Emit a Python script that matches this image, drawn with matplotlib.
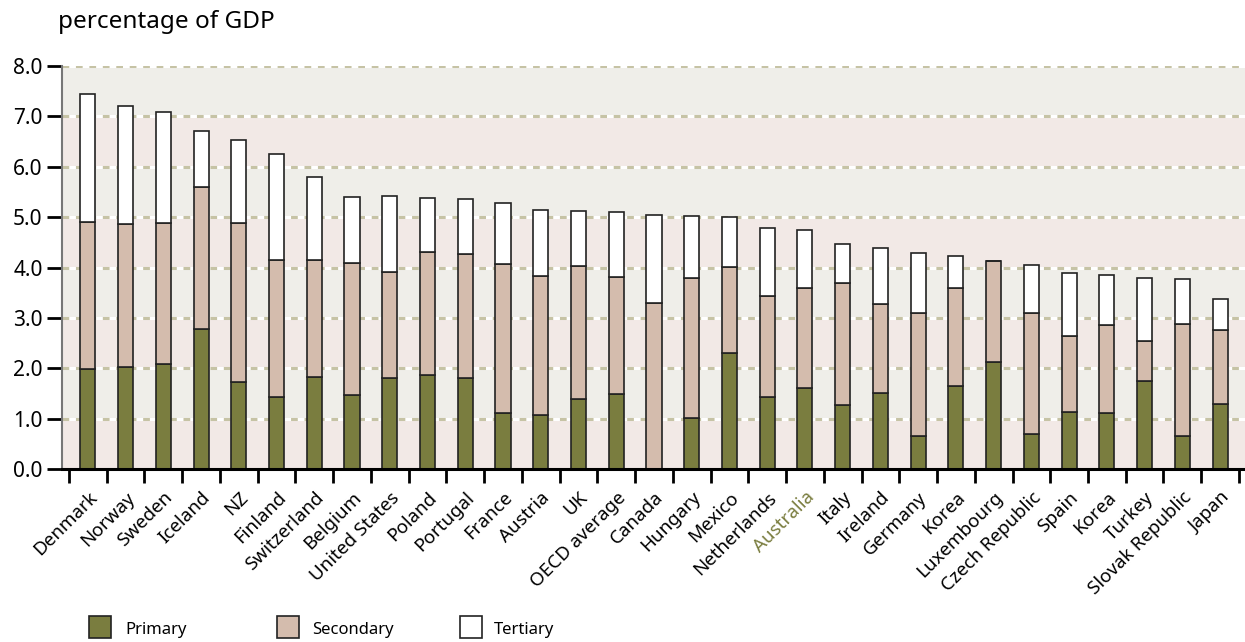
import matplotlib.pyplot as plt
from matplotlib.patches import Rectangle
import numpy as np

plt.rcParams['font.family'] = ['Noto Sans', 'DejaVu Sans']

countries = ['Denmark', 'Norway', 'Sweden', 'Iceland', 'NZ', 'Finland', 'Switzerland',
             'Belgium', 'United States', 'Poland', 'Portugal', 'France', 'Austria', 'UK',
             'OECD average', 'Canada', 'Hungary', 'Mexico', 'Netherlands', 'Australia',
             'Italy', 'Ireland', 'Germany', 'Korea', 'Luxembourg', 'Czech Republic',
             'Spain', 'Korea', 'Turkey', 'Slovak Republic', 'Japan']
# cumulative tops
primary = [1.98, 2.03, 2.08, 2.78, 1.73, 1.43, 1.83, 1.46, 1.81, 1.86, 1.81, 1.11, 1.08, 1.39,
           1.48, 0.0, 1.01, 2.30, 1.43, 1.61, 1.27, 1.51, 0.65, 1.64, 2.12, 0.69,
           1.14, 1.12, 1.75, 0.66, 1.30]
prim_sec = [4.91, 4.86, 4.88, 5.60, 4.88, 4.15, 4.15, 4.08, 3.91, 4.30, 4.27, 4.06, 3.84, 4.02,
            3.82, 3.30, 3.79, 4.01, 3.43, 3.60, 3.69, 3.28, 3.09, 3.59, 4.13, 3.10,
            2.65, 2.86, 2.55, 2.88, 2.75]
total = [7.44, 7.20, 7.08, 6.71, 6.54, 6.25, 5.80, 5.40, 5.42, 5.37, 5.36, 5.28, 5.14, 5.13,
         5.11, 5.04, 5.02, 5.01, 4.79, 4.75, 4.46, 4.39, 4.29, 4.23, 4.13, 4.05,
         3.90, 3.86, 3.79, 3.77, 3.38]
yticks = [0, 1, 2, 3, 4, 5, 6, 7, 8]

primary = np.array(primary)
secondary = np.array(prim_sec) - primary
tertiary = np.array(total) - np.array(prim_sec)

c_prim = '#7a7d3f'
c_sec = '#d4bcad'
c_ter = '#ffffff'
edge = '#222222'

fig = plt.figure(figsize=(12.45, 6.42), dpi=100)
ax = fig.add_axes([62 / 1245, 1 - 469 / 642, 1 - 62 / 1245, 403 / 642])

x = np.arange(len(countries))
ax.set_xlim(-0.685, 30.66)
ax.set_ylim(0, 8)

# background bands
for i in range(8):
    ax.axhspan(i, i + 1, color='#f2e9e6' if i % 2 == 0 else '#efeee9', lw=0, zorder=0)
for v in yticks[1:]:
    ax.axhline(v, color='white', lw=2.2, zorder=0.5)
    ax.axhline(v, color='#c6c3a5', lw=2.2, ls=(0, (2.2, 2.2)), zorder=0.6)

w = 0.4
kw = dict(width=w, edgecolor=edge, linewidth=1.2, zorder=2)
ax.bar(x, primary, color=c_prim, **kw)
ax.bar(x, secondary, bottom=primary, color=c_sec, **kw)
ax.bar(x, tertiary, bottom=prim_sec, color=c_ter, **kw)

ax.set_yticks(yticks)
ax.set_yticklabels([f'{v:.1f}' for v in yticks], fontsize=15)
ax.tick_params(axis='y', length=11, width=2, color='black', pad=3)

ax.set_xticks(x)
ax.set_xticklabels(countries, rotation=45, ha='right', rotation_mode='anchor', fontsize=13.5)
ax.tick_params(axis='x', which='major', length=0, pad=14)
ax.set_xticks(np.arange(-0.5, len(countries), 1), minor=True)
ax.tick_params(axis='x', which='minor', length=10, width=2, color='black')
for lbl, name in zip(ax.get_xticklabels(), countries):
    if name == 'Australia':
        lbl.set_color(c_prim)

for s in ['top', 'right']:
    ax.spines[s].set_visible(False)
ax.spines['left'].set_color('#777777')
ax.spines['left'].set_linewidth(1.5)
ax.spines['bottom'].set_color('black')
ax.spines['bottom'].set_linewidth(2.2)
ax.spines['bottom'].set_zorder(3)

fig.text(58 / 1245, 1 - 22 / 642, 'percentage of GDP', fontsize=17.5, va='center', ha='left')

# legend
for (lx, tx, col, name) in [(89, 125, c_prim, 'Primary'), (277, 312, c_sec, 'Secondary'),
                            (460, 494, c_ter, 'Tertiary')]:
    fig.patches.append(Rectangle((lx / 1245, 1 - 638 / 642), 22 / 1245, 22 / 642,
                                 transform=fig.transFigure, facecolor=col,
                                 edgecolor=edge, linewidth=1.2))
    fig.text(tx / 1245, 1 - 630 / 642, name, fontsize=12, va='center', ha='left')

fig.savefig('out.png', dpi=100)
